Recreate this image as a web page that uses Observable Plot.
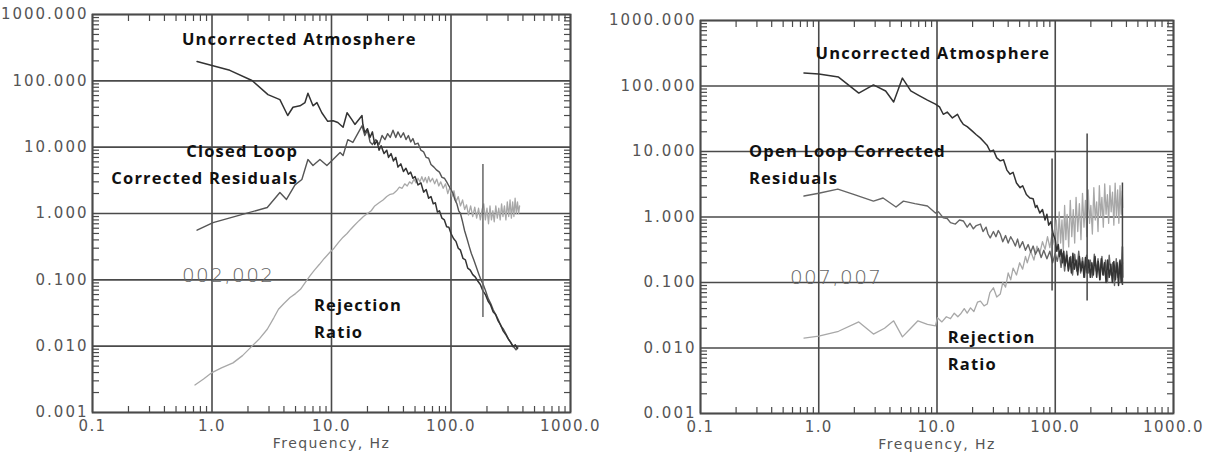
<!DOCTYPE html>
<html><head><meta charset="utf-8">
<script src="https://cdn.jsdelivr.net/npm/d3@7"></script>
<script src="https://cdn.jsdelivr.net/npm/@observablehq/plot@0.6"></script>
<style>
body{margin:0;background:#fff;}
#wrap{position:relative;width:1205px;height:457px;overflow:hidden;background:#fff;}
.layer{position:absolute;top:0;}
</style></head><body><div id="wrap">
<div id="leftBg" class="layer" style="left:0"></div><div id="leftFg" class="layer" style="left:0"></div>
<div id="rightBg" class="layer" style="left:600px"></div><div id="rightFg" class="layer" style="left:600px"></div>
</div>
<script>
// ---- axis ticks / labels ----
const xTicks = [0.1, 1, 10, 100, 1000];
const xTickLabels = ["0.1", "1.0", "10.0", "100.0", "1000.0"];
const yTicks = [0.001, 0.01, 0.1, 1, 10, 100, 1000];
const yTickLabels = ["0.001", "0.010", "0.100", "1.000", "10.000", "100.000", "1000.000"];
const xMinorTicks = [0.2,0.3,0.4,0.5,0.6,0.7,0.8,0.9,2,3,4,5,6,7,8,9,20,30,40,50,60,70,80,90,200,300,400,500,600,700,800,900];
const yMinorTicks = [0.002,0.003,0.004,0.005,0.006,0.007,0.008,0.009,0.02,0.03,0.04,0.05,0.06,0.07,0.08,0.09,0.2,0.3,0.4,0.5,0.6,0.7,0.8,0.9,2,3,4,5,6,7,8,9,20,30,40,50,60,70,80,90,200,300,400,500,600,700,800,900];
const xLabel = "Frequency, Hz";

// ---- left panel (closed loop) [frequency Hz, value] ----
const leftAtmosphere = [[0.75,196],[1,170],[1.41,144],[2.16,101],[2.94,62],[3.7,52],[4.3,30],[4.76,40],[5.45,42],[6,47],[6.35,65],[7,42],[7.55,47],[8.3,33],[9.3,24.5],[10.3,25],[11.3,23.5],[12.5,20],[13.5,33],[14.8,26],[15.7,22],[18,30],[18.3,22],
[19,16.6],[20,19],[21,14],[22,17],[23,11],[24,12.5],[25,9],[26,10.5],[27.5,8],[29,9],[30,7],[31.5,8],[33,6.2],[34.5,7],[36,5],[38,5.6],[40,4.3],[42,4.8],[44,3.9],[46,4.2],[48,3.4],[50,3.6],[53,2.7],[56,2.9],[59,2.1],[62,2.3],[65,1.7],[68,1.8],[71,1.4],[74,1.45],[77,1.05],[80,1.1],[84,0.85],[88,0.8],[92,0.63],[96,0.62],[100,0.5],[105,0.42],[110,0.38],[115,0.3],[120,0.28],[126,0.21],[132,0.2],[138,0.15],[145,0.14],[152,0.12],[160,0.11],[168,0.095],[176,0.085],[185,0.068],[194,0.06],[204,0.048],[214,0.042],[225,0.033],[236,0.03],[248,0.024],[260,0.021],[273,0.017],[287,0.015],[300,0.013],[315,0.0115],[330,0.0098],[345,0.0105],[360,0.0092]];
const leftResiduals = [[0.75,0.56],[1.02,0.73],[1.8,0.97],[2.9,1.23],[3.7,2.07],[4.2,1.63],[4.95,2.7],[5.65,3.25],[6.35,6.5],[7,5.3],[8,6.5],[9.15,5.3],[10.1,6.3],[11.8,8.3],[12.5,7.5],[13.7,13],[15.1,11.8],[18,21],[19,15],
[20,18],[21,12],[22,11],[23.5,13],[25,11],[26.5,15],[28,13],[29.5,16],[31,14],[32.7,18],[34.5,14],[36,17],[38,14],[40,16.5],[42,13],[44,15],[46,12],[48,13.5],[50,11],[53,11.5],[56,9],[59,8.5],[62,7],[65,6.8],[68,5.5],[72,5],[76,4.5],[80,4.2],[84,3.5],[88,3.4],[92,3.0],[96,2.6],[100,2.3],[104,2.0],[108,1.6],[112,1.4],[116,1.1],[120,1.0],[125,0.75],[130,0.55],[136,0.42],[142,0.32],[148,0.25],[155,0.2],[162,0.16],[170,0.125],[178,0.1],[186,0.085],[195,0.068],[205,0.052],[215,0.044],[226,0.035],[237,0.03],[249,0.025],[262,0.02],[275,0.018],[290,0.015],[305,0.0125],[320,0.011],[335,0.0098],[350,0.0088],[362,0.0095]];
const leftRejection = [[0.72,0.0026],[0.85,0.0032],[1,0.004],[1.2,0.0047],[1.5,0.0056],[1.8,0.0072],[2.1,0.0095],[2.5,0.013],[2.9,0.018],[3.3,0.027],[3.6,0.036],[4,0.044],[4.5,0.054],[5,0.062],[5.5,0.072],[6,0.09],[6.6,0.115],[7.2,0.14],[7.9,0.17],[8.7,0.21],[9.7,0.26],[10.5,0.3],[11.5,0.37],[12.5,0.44],[13.5,0.5],[14.5,0.58],[15.5,0.66],[17,0.78],[18.5,0.9],[20,1.0],[21.5,1.1],[23,1.3],[25,1.45],[27,1.6],[29,1.8],[31,1.95],[33,2.0],[35,2.2],[37,2.5],[39,2.4],[41,2.8],[43,2.6],[45,3.0],[47,2.8],[49,3.3],[51,2.9],[53,3.4],[55,3.0],[57,3.6],[59,3.0],[61,3.5],[63,2.9],[65,3.6],[67,3.0],[70,3.4],[73,2.8],[76,3.3],[79,2.6],[82,3.0],[86,2.4],[90,2.8],[94,2.0],[98,2.5],[102,1.8],[106,2.2],[110,1.5],[115,1.8],[120,1.3],[125,1.6],[130,1.15],[135,1.35],[140,0.95],[146,1.3],[152,0.9],[158,1.25],[164,0.85],[170,1.2],[176,0.8],[182,1.15],[188,1.4],[194,0.8],[200,1.2],[206,0.7],[212,1.3],[218,0.8],[224,1.1],[230,0.75],[237,1.3],[244,0.85],[251,1.2],[258,0.8],[265,1.4],[272,0.9],[280,1.3],[288,0.8],[296,1.5],[304,0.9],[312,1.6],[320,0.85],[328,1.5],[336,0.9],[344,1.7],[352,1.0],[360,1.5],[368,1.0],[375,1.3]];
const leftSpikes = [{f:185, lo:0.027, hi:5.5}];

// ---- right panel (open loop) ----
const rightAtmosphere = [[0.75,158],[1,152],[1.47,137],[2.18,78],[2.9,104],[3.68,84],[4.3,57],[5.1,132],[6,84],[7,72],[8.3,61],[9.7,53],[10.5,48],[11.3,37],[12.2,40],[13.5,32.5],[14.9,37],[15.8,30],[16.7,26],[18,24],[19.9,20.5],[21.5,18],[23.3,16],[25,14],[26.5,12.5],[28.2,10],[30,10.5],[32,8],[34.3,7.2],[36.5,7.5],[39,5.2],[41.5,4.5],[44,4.8],[47,3.3],[50.5,2.8],[53,3.0],[57,2.2],[61,1.95],[65,1.9],[68,1.4],[70,1.5],[74,1.15],[78,1.3],[82,0.9],[85,1.1],[88,0.75],[92,0.85],[96,0.55],
[100,0.45],[103,0.3],[106,0.38],[109,0.25],[112,0.32],[115,0.2],[118,0.3],[121,0.18],[125,0.26],[129,0.15],[133,0.24],[137,0.14],[141,0.28],[145,0.16],[150,0.22],[155,0.13],[160,0.25],[165,0.15],[170,0.21],[175,0.12],[180,0.24],[186,0.14],[192,0.22],[198,0.12],[204,0.2],[210,0.13],[217,0.25],[224,0.12],[231,0.21],[238,0.11],[245,0.23],[253,0.13],[261,0.2],[269,0.1],[277,0.22],[286,0.12],[295,0.19],[304,0.1],[313,0.21],[323,0.11],[333,0.2],[343,0.09],[353,0.22],[362,0.1],[370,0.35],[372,0.12]];
const rightResiduals = [[0.75,2.09],[1,2.3],[1.45,2.67],[2,2.2],[2.9,1.75],[3.5,1.95],[4.5,1.42],[5.2,1.75],[6.5,1.6],[8.3,1.47],[9.7,1.15],[10.3,1.2],[11.3,0.97],[12.2,0.95],[13,0.82],[14.3,0.78],[15.5,0.9],[16.7,0.87],[18,0.7],[19,0.8],[20.3,0.66],[21.5,0.74],[23.3,0.78],[24.5,0.6],[26,0.7],[27,0.55],[28.2,0.48],[30,0.6],[31.5,0.5],[33,0.62],[34.3,0.55],[36,0.42],[38,0.52],[40,0.4],[42,0.5],[44,0.43],[46,0.36],[48,0.46],[50,0.34],[53,0.42],[56,0.31],[59,0.38],[62,0.29],[65,0.36],[68,0.27],[72,0.33],[76,0.24],[80,0.31],[85,0.23],[90,0.3],[95,0.2],[100,0.28],[104,0.21],[108,0.3],[112,0.17],[116,0.28],[120,0.15],[125,0.3],[130,0.16],[135,0.25],[140,0.13],[146,0.27],[152,0.15],[158,0.3],[164,0.14],[170,0.24],[177,0.12],[184,0.26],[191,0.14],[198,0.22],[206,0.12],[214,0.27],[222,0.15],[230,0.23],[239,0.11],[248,0.25],[257,0.13],[266,0.22],[276,0.1],[286,0.26],[296,0.13],[306,0.2],[317,0.09],[328,0.23],[339,0.12],[350,0.21],[361,0.1],[370,0.2]];
const rightRejection = [[0.75,0.0142],[1,0.0152],[1.47,0.018],[2.18,0.025],[2.9,0.0163],[3.6,0.02],[4.3,0.026],[5.1,0.0148],[6,0.02],[6.9,0.026],[8.3,0.023],[9.7,0.0218],[10.1,0.029],[11,0.025],[12,0.03],[13,0.028],[14,0.034],[15,0.03],[15.8,0.033],[17,0.04],[18,0.034],[19.2,0.041],[20.5,0.036],[22,0.05],[23.3,0.052],[25,0.044],[26.6,0.047],[28,0.07],[30,0.083],[32,0.06],[34.3,0.067],[36,0.1],[38,0.085],[40,0.14],[42,0.11],[44,0.166],[47,0.13],[50,0.2],[53,0.16],[56,0.25],[58,0.2],[62,0.3],[66,0.22],[70,0.36],[74,0.28],[78,0.42],[82,0.32],[86,0.5],[90,0.34],[94,0.55],[98,0.38],[102,0.9],[105,0.35],[108,1.2],[111,0.4],[114,0.9],[117,0.3],[120,1.5],[123,0.45],[126,1.1],[130,0.35],[134,1.8],[138,0.5],[142,1.3],[146,0.4],[150,2.0],[155,0.6],[160,1.6],[165,0.45],[170,2.3],[175,0.7],[180,1.8],[185,0.5],[190,2.6],[195,0.8],[200,1.5],[206,0.55],[212,2.8],[218,0.9],[224,1.7],[230,0.6],[236,3.0],[242,1.0],[248,2.0],[255,0.7],[262,3.2],[269,1.1],[276,2.2],[283,0.8],[290,3.0],[297,1.2],[305,2.4],[313,0.75],[321,3.3],[329,1.0],[337,2.6],[345,0.8],[353,3.0],[361,1.1],[369,2.5],[372,1.4]];
const rightSpikes = [{f:94, lo:0.074, hi:7.7}, {f:186, lo:0.052, hi:18.5}, {f:370, lo:0.09, hi:3.3}];

const GRID = "#4a4a4a";
const tickFont = "DejaVu Sans";
const boldFont = "Open Sans";

function scales() {
  return {
    x: {type: "log", domain: [0.1, 1000], axis: null},
    y: {type: "log", domain: [0.001, 1000], axis: null}
  };
}

// background layer: decade grid, inward minor ticks (as axis ticks), frame
function background(dim) {
  const minor = {tickSize: -6, tickFormat: () => "", label: null, stroke: GRID, strokeWidth: 1.2};
  return Plot.plot({
    width: dim.width, height: dim.height, marginLeft: dim.mL, marginRight: dim.mR, marginTop: dim.mT, marginBottom: dim.mB,
    ...scales(),
    style: {background: "transparent", overflow: "visible"},
    marks: [
      Plot.ruleX(xTicks, {stroke: GRID, strokeWidth: 1.6}),
      Plot.ruleY(yTicks, {stroke: GRID, strokeWidth: 1.6}),
      Plot.axisX({anchor: "bottom", ticks: xMinorTicks, ...minor}),
      Plot.axisX({anchor: "top", ticks: xMinorTicks, ...minor}),
      Plot.axisY({anchor: "left", ticks: yMinorTicks, ...minor, tickSize: -7}),
      Plot.axisY({anchor: "right", ticks: yMinorTicks, ...minor, tickSize: -7}),
      Plot.frame({stroke: GRID, strokeWidth: 1.8})
    ]
  });
}

// foreground layer: tick labels, curves, spikes, annotations
function foreground(dim, curves, spikes, labels) {
  const marks = [
    Plot.axisX({ticks: xTicks, tickFormat: d => xTickLabels[xTicks.indexOf(d)], tickSize: 0, tickPadding: 8, label: null,
      fontSize: 15, fontFamily: tickFont, fill: "#555"}),
    Plot.axisY({ticks: yTicks, tickFormat: d => yTickLabels[yTicks.indexOf(d)], tickSize: 0, tickPadding: 4, label: null,
      fontSize: 15, fontFamily: tickFont, fill: "#555", fontVariant: "normal"}),
    Plot.text([xLabel], {frameAnchor: "bottom", dy: 35, fontSize: 14, fontFamily: tickFont, fill: "#555"})
  ];
  for (const c of curves) {
    marks.push(Plot.line(c.data, {x: d => d[0], y: d => d[1], stroke: c.stroke, strokeWidth: c.sw}));
  }
  marks.push(Plot.ruleX(spikes.data, {x: "f", y1: "lo", y2: "hi", stroke: spikes.stroke, strokeWidth: 1.5}));
  for (const l of labels) {
    marks.push(Plot.text([l.text], {x: l.x, y: l.y, textAnchor: l.anchor || "start", lineAnchor: "middle",
      fontFamily: l.code ? tickFont : boldFont, fontWeight: l.code ? 300 : 700, fontSize: l.code ? 20 : 16.5,
      fill: l.code ? "#666" : "#111"}));
  }
  const svg = Plot.plot({
    width: dim.width, height: dim.height, marginLeft: dim.mL, marginRight: dim.mR, marginTop: dim.mT, marginBottom: dim.mB,
    ...scales(),
    style: {background: "transparent", overflow: "visible"},
    marks
  });
  svg.querySelectorAll('[font-family="' + boldFont + '"]').forEach(g => g.setAttribute("letter-spacing", "1.2"));
  svg.querySelectorAll('[font-family="' + tickFont + '"]').forEach(g => g.setAttribute("letter-spacing", "1.4"));
  svg.querySelectorAll('[font-variant="normal"]').forEach(g => g.setAttribute("letter-spacing", "2"));
  return svg;
}

const leftDim = {width: 600, height: 457, mL: 92, mR: 30, mT: 14, mB: 45};
const rightDim = {width: 605, height: 457, mL: 100, mR: 32, mT: 20, mB: 44};

document.getElementById("leftBg").append(background(leftDim));
document.getElementById("leftFg").append(foreground(leftDim,
  [
    {data: leftRejection, stroke: "#a8a8a8", sw: 1.3},
    {data: leftResiduals, stroke: "#555", sw: 1.4},
    {data: leftAtmosphere, stroke: "#333", sw: 1.5}
  ],
  {data: leftSpikes, stroke: "#666"},
  [
    {text: "Uncorrected Atmosphere", x: 0.56, y: 421},
    {text: "Closed Loop", x: 5.25, y: 8.6, anchor: "end"},
    {text: "Corrected Residuals", x: 5.25, y: 3.37, anchor: "end"},
    {text: "002,002", x: 0.56, y: 0.116, code: true},
    {text: "Rejection", x: 7.14, y: 0.041},
    {text: "Ratio", x: 7.14, y: 0.016}
  ]));

document.getElementById("rightBg").append(background(rightDim));
document.getElementById("rightFg").append(foreground(rightDim,
  [
    {data: rightRejection, stroke: "#a8a8a8", sw: 1.3},
    {data: rightResiduals, stroke: "#666", sw: 1.4},
    {data: rightAtmosphere, stroke: "#333", sw: 1.5}
  ],
  {data: rightSpikes, stroke: "#444"},
  [
    {text: "Uncorrected Atmosphere", x: 0.94, y: 308},
    {text: "Open Loop Corrected", x: 0.257, y: 9.8},
    {text: "Residuals", x: 0.257, y: 3.8},
    {text: "007,007", x: 0.57, y: 0.117, code: true},
    {text: "Rejection", x: 12.3, y: 0.0142},
    {text: "Ratio", x: 12.3, y: 0.0055}
  ]));
</script></body></html>
